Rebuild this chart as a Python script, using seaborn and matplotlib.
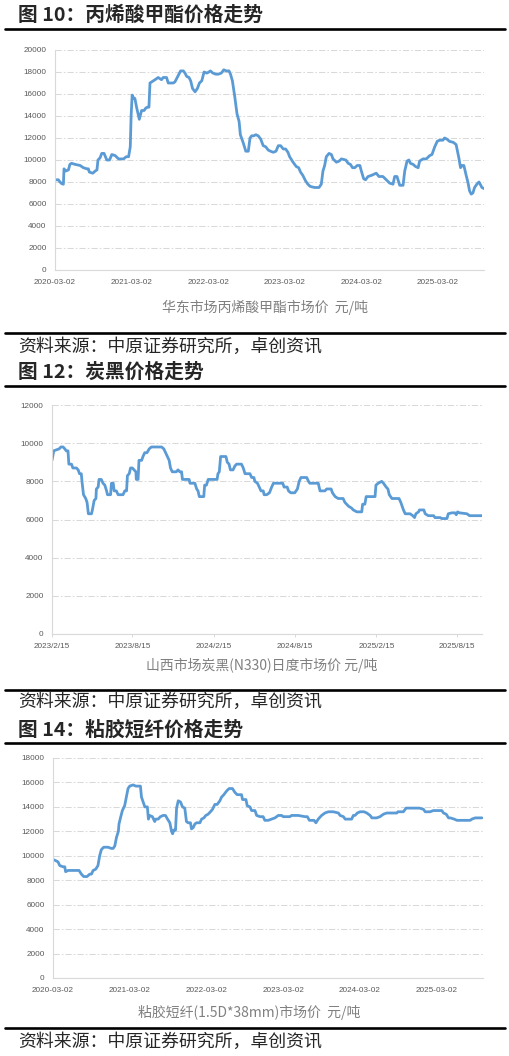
import matplotlib
matplotlib.use('Agg')
import matplotlib.pyplot as plt
from matplotlib.lines import Line2D
import seaborn as sns
import pandas as pd

# ---------------- data ----------------
p1_dates = [
    "2020-03-02","2020-03-18","2020-03-26","2020-04-03","2020-04-11","2020-04-14","2020-04-22","2020-05-05","2020-05-12","2020-05-20",
    "2020-06-06","2020-06-30","2020-07-15","2020-08-01","2020-08-08","2020-08-13","2020-08-29","2020-09-10","2020-09-18","2020-09-23",
    "2020-10-03","2020-10-11","2020-10-22","2020-11-04","2020-11-17","2020-11-28","2020-12-14","2020-12-30","2021-01-23","2021-02-05",
    "2021-02-16","2021-02-24","2021-02-28","2021-03-05","2021-03-13","2021-03-18","2021-03-26","2021-04-08","2021-04-19","2021-05-01",
    "2021-05-08","2021-05-16","2021-05-24","2021-05-29","2021-06-06","2021-06-22","2021-07-07","2021-07-23","2021-07-31","2021-08-16",
    "2021-08-24","2021-09-17","2021-09-25","2021-10-03","2021-10-14","2021-10-22","2021-11-04","2021-11-12","2021-11-20","2021-12-01",
    "2021-12-09","2021-12-18","2021-12-30","2022-01-10","2022-01-20","2022-01-31","2022-02-11","2022-02-24","2022-03-06","2022-03-13",
    "2022-03-25","2022-04-08","2022-04-19","2022-05-04","2022-05-16","2022-05-28","2022-06-10","2022-06-17","2022-06-26","2022-07-07",
    "2022-07-18","2022-07-28","2022-08-03","2022-08-16","2022-08-29","2022-09-10","2022-09-18","2022-09-26","2022-10-06","2022-10-16",
    "2022-10-27","2022-11-08","2022-11-20","2022-12-02","2022-12-14","2022-12-25","2023-01-07","2023-01-20","2023-01-31","2023-02-11",
    "2023-02-24","2023-03-07","2023-03-18","2023-03-26","2023-04-08","2023-04-19","2023-04-27","2023-05-08","2023-05-17","2023-05-28",
    "2023-06-10","2023-06-21","2023-07-02","2023-07-23","2023-08-13","2023-08-24","2023-09-01","2023-09-09","2023-09-17","2023-09-30",
    "2023-10-11","2023-10-19","2023-11-04","2023-11-17","2023-11-28","2023-12-19","2023-12-30","2024-01-10","2024-01-20","2024-01-31",
    "2024-02-11","2024-02-24","2024-03-02","2024-03-13","2024-03-22","2024-04-03","2024-04-19","2024-04-30","2024-05-12","2024-05-25",
    "2024-06-13","2024-06-29","2024-07-15","2024-07-31","2024-08-08","2024-08-19","2024-09-01","2024-09-17","2024-09-25","2024-10-06",
    "2024-10-15","2024-10-22","2024-11-04","2024-11-16","2024-11-28","2024-12-05","2024-12-21","2025-01-06","2025-01-22","2025-02-02",
    "2025-02-15","2025-02-27","2025-03-10","2025-03-26","2025-04-03","2025-04-14","2025-04-26","2025-05-15","2025-05-28","2025-06-10",
    "2025-06-18","2025-06-26","2025-07-04","2025-07-15","2025-07-23","2025-07-31","2025-08-08","2025-08-16","2025-08-24","2025-09-04",
    "2025-09-14","2025-09-20","2025-09-28","2025-10-08",
]
p1_values = [
    8200, 8200, 8000, 7850, 7800, 9200, 9000, 9100, 9600, 9700,
    9600, 9500, 9300, 9200, 9200, 8900, 8800, 9000, 9100, 10000,
    10200, 10600, 10600, 10000, 10000, 10500, 10400, 10100, 10100, 10300,
    10300, 11200, 14000, 15900, 15600, 15600, 14800, 13700, 14500, 14500,
    14700, 14800, 14800, 17000, 17100, 17300, 17500, 17300, 17500, 17500,
    17000, 17000, 17100, 17400, 17800, 18100, 18100, 17900, 17600, 17500,
    17200, 16500, 16200, 16500, 17000, 17200, 18000, 17900, 18000, 18100,
    17900, 17800, 17800, 17900, 18200, 18100, 18100, 17800, 17200, 15800,
    14200, 13500, 12300, 11600, 10800, 10800, 12000, 12200, 12200, 12300,
    12200, 11900, 11300, 11200, 10900, 10800, 10700, 10800, 11300, 11300,
    11000, 11000, 10700, 10300, 9900, 9600, 9400, 9300, 8900, 8600,
    8100, 7800, 7600, 7500, 7500, 7800, 9000, 9500, 10300, 10600,
    10500, 10100, 9800, 9900, 10100, 10000, 9700, 9600, 9300, 9300,
    9500, 9500, 9000, 8300, 8200, 8500, 8600, 8700, 8800, 8500,
    8500, 8200, 7900, 7800, 8500, 8500, 7700, 7700, 9000, 9900,
    10000, 9700, 9600, 9400, 9300, 9900, 10100, 10100, 10400, 10500,
    11200, 11700, 11800, 11800, 12000, 11900, 11700, 11600, 11400, 10200,
    9300, 9500, 9500, 8600, 8000, 7200, 6900, 7000, 7500, 7800,
    8000, 7800, 7500, 7400,
]

p2_dates = [
    "2023-02-15","2023-02-19","2023-02-25","2023-03-03","2023-03-07","2023-03-12","2023-03-16","2023-03-19","2023-03-23","2023-03-25",
    "2023-03-31","2023-04-03","2023-04-11","2023-04-15","2023-04-18","2023-04-22","2023-04-24","2023-04-27","2023-05-02","2023-05-05",
    "2023-05-08","2023-05-15","2023-05-17","2023-05-21","2023-05-25","2023-05-26","2023-05-30","2023-06-01","2023-06-06","2023-06-10",
    "2023-06-14","2023-06-18","2023-06-20","2023-06-27","2023-06-29","2023-07-03","2023-07-05","2023-07-10","2023-07-14","2023-07-25",
    "2023-07-29","2023-08-02","2023-08-04","2023-08-08","2023-08-11","2023-08-15","2023-08-19","2023-08-23","2023-08-24","2023-08-28",
    "2023-08-30","2023-09-05","2023-09-08","2023-09-12","2023-09-17","2023-09-22","2023-09-27","2023-10-08","2023-10-20","2023-10-25",
    "2023-10-29","2023-11-02","2023-11-06","2023-11-09","2023-11-13","2023-11-22","2023-11-26","2023-11-30","2023-12-04","2023-12-06",
    "2023-12-21","2023-12-23","2024-01-03","2024-01-07","2024-01-10","2024-01-13","2024-01-23","2024-01-25","2024-01-29","2024-02-02",
    "2024-02-22","2024-02-24","2024-02-27","2024-03-01","2024-03-13","2024-03-16","2024-03-20","2024-03-23","2024-03-29","2024-04-02",
    "2024-04-06","2024-04-17","2024-04-21","2024-04-25","2024-05-06","2024-05-10","2024-05-15","2024-05-17","2024-05-23","2024-05-27",
    "2024-05-31","2024-06-05","2024-06-07","2024-06-13","2024-06-19","2024-06-24","2024-06-28","2024-07-19","2024-07-22","2024-07-29",
    "2024-08-01","2024-08-06","2024-08-15","2024-08-21","2024-08-25","2024-08-29","2024-09-11","2024-09-15","2024-09-18","2024-10-07",
    "2024-10-11","2024-10-22","2024-10-26","2024-11-05","2024-11-08","2024-11-14","2024-11-21","2024-12-02","2024-12-06","2024-12-10",
    "2024-12-14","2024-12-21","2024-12-25","2025-01-02","2025-01-13","2025-01-15","2025-01-20","2025-01-23","2025-02-12","2025-02-14",
    "2025-02-19","2025-02-27","2025-03-03","2025-03-09","2025-03-13","2025-03-16","2025-03-22","2025-04-07","2025-04-11","2025-04-17",
    "2025-04-21","2025-05-02","2025-05-08","2025-05-12","2025-05-15","2025-05-21","2025-05-23","2025-06-02","2025-06-05","2025-06-12",
    "2025-06-24","2025-06-27","2025-07-09","2025-07-12","2025-07-24","2025-07-27","2025-08-04","2025-08-11","2025-08-14","2025-08-17",
    "2025-08-21","2025-09-07","2025-09-13","2025-10-11",
]
p2_values = [
    9100, 9600, 9650, 9700, 9800, 9800, 9700, 9600, 9600, 8900,
    8900, 8700, 8700, 8600, 8400, 8400, 7900, 7300, 7100, 6900,
    6300, 6300, 6500, 7000, 7100, 7600, 7700, 8100, 8100, 7900,
    7800, 7500, 7300, 7300, 7900, 7900, 7500, 7500, 7300, 7300,
    7500, 7500, 8300, 8400, 8700, 8700, 8600, 8500, 8100, 8100,
    9100, 9100, 9300, 9500, 9500, 9700, 9800, 9800, 9800, 9700,
    9500, 9300, 9100, 8700, 8500, 8500, 8600, 8500, 8500, 8100,
    8100, 7900, 7900, 7600, 7500, 7200, 7200, 7800, 7800, 8100,
    8100, 8400, 8500, 9300, 9300, 9000, 8900, 8600, 8600, 8800,
    8900, 8900, 8700, 8400, 8400, 8200, 8200, 8000, 7900, 7700,
    7500, 7500, 7300, 7300, 7400, 7700, 7900, 7900, 7700, 7700,
    7500, 7400, 7400, 7600, 8000, 8200, 8200, 8000, 7900, 7900,
    7500, 7500, 7600, 7600, 7400, 7200, 7100, 7100, 6900, 6800,
    6700, 6600, 6500, 6400, 6400, 6800, 6800, 7200, 7200, 7800,
    7900, 8000, 7900, 7700, 7600, 7300, 7100, 7100, 6900, 6500,
    6300, 6300, 6200, 6100, 6300, 6400, 6500, 6500, 6300, 6200,
    6200, 6100, 6100, 6050, 6050, 6300, 6350, 6350, 6250, 6400,
    6350, 6300, 6200, 6200,
]

p3_dates = [
    "2020-03-02","2020-03-15","2020-03-26","2020-04-03","2020-04-19","2020-04-27","2020-05-01","2020-05-13","2020-05-28","2020-07-04",
    "2020-07-15","2020-07-26","2020-08-11","2020-08-24","2020-09-01","2020-09-09","2020-09-21","2020-10-02","2020-10-10","2020-10-18",
    "2020-10-29","2020-11-19","2020-12-05","2020-12-13","2020-12-21","2020-12-29","2021-01-07","2021-01-10","2021-01-17","2021-01-26",
    "2021-02-06","2021-02-14","2021-02-22","2021-03-02","2021-03-18","2021-03-31","2021-04-16","2021-04-22","2021-04-27","2021-05-05",
    "2021-05-13","2021-05-25","2021-05-30","2021-06-05","2021-06-18","2021-06-29","2021-07-04","2021-07-15","2021-07-26","2021-08-08",
    "2021-08-19","2021-08-29","2021-09-09","2021-09-17","2021-09-22","2021-09-28","2021-10-06","2021-10-11","2021-10-19","2021-10-30",
    "2021-11-08","2021-11-19","2021-11-27","2021-12-05","2021-12-16","2021-12-21","2021-12-29","2022-01-06","2022-01-14","2022-01-30",
    "2022-02-07","2022-02-18","2022-02-27","2022-03-10","2022-03-21","2022-03-31","2022-04-11","2022-04-22","2022-05-05","2022-05-13",
    "2022-05-24","2022-06-06","2022-06-18","2022-07-04","2022-07-15","2022-07-26","2022-08-16","2022-08-21","2022-09-06","2022-09-12",
    "2022-09-25","2022-10-03","2022-10-19","2022-10-27","2022-11-12","2022-11-27","2022-12-05","2022-12-21","2023-01-06","2023-01-22",
    "2023-02-07","2023-02-23","2023-03-02","2023-04-03","2023-04-11","2023-05-13","2023-06-14","2023-06-25","2023-07-05","2023-07-27",
    "2023-08-05","2023-08-16","2023-09-01","2023-09-17","2023-10-03","2023-10-27","2023-11-20","2023-11-28","2023-12-14","2023-12-22",
    "2024-01-06","2024-01-22","2024-01-30","2024-02-07","2024-02-18","2024-03-02","2024-03-21","2024-04-03","2024-04-19","2024-04-27",
    "2024-05-20","2024-06-05","2024-06-21","2024-07-07","2024-08-08","2024-08-24","2024-08-29","2024-09-24","2024-10-07","2024-11-11",
    "2024-12-10","2024-12-29","2025-01-06","2025-01-29","2025-02-14","2025-03-26","2025-04-03","2025-04-16","2025-04-27","2025-05-05",
    "2025-05-24","2025-06-06","2025-06-30","2025-08-08","2025-08-16","2025-09-01","2025-10-03",
]
p3_values = [
    9700, 9600, 9500, 9200, 9100, 9100, 8700, 8800, 8800, 8800,
    8500, 8300, 8300, 8500, 8500, 8800, 8900, 9200, 10000, 10500,
    10700, 10700, 10600, 10600, 10800, 11500, 12000, 12600, 13100, 13700,
    14100, 14800, 15500, 15700, 15800, 15700, 15700, 15700, 14800, 14400,
    14000, 14000, 13000, 13300, 13200, 12800, 13000, 13000, 13200, 13300,
    13300, 13000, 12700, 12000, 11800, 12100, 12100, 13900, 14500, 14400,
    14000, 13900, 12800, 12700, 12700, 12200, 12300, 12600, 12700, 12700,
    13000, 13100, 13300, 13400, 13600, 13800, 14200, 14200, 14500, 14800,
    15000, 15300, 15500, 15500, 15200, 15000, 15000, 14600, 14600, 14100,
    14000, 13700, 13700, 13300, 13200, 13200, 12900, 12900, 13000, 13100,
    13300, 13300, 13200, 13200, 13300, 13300, 13200, 13200, 12900, 12900,
    12700, 13000, 13300, 13500, 13600, 13600, 13500, 13300, 13200, 13000,
    13000, 13000, 13300, 13300, 13500, 13600, 13600, 13500, 13300, 13100,
    13100, 13200, 13400, 13500, 13500, 13500, 13600, 13600, 13900, 13900,
    13900, 13800, 13600, 13600, 13700, 13700, 13500, 13400, 13100, 13100,
    13000, 12900, 12900, 12900, 13000, 13100, 13100,
]

titles = ["图 10：丙烯酸甲酯价格走势", "图 12：炭黑价格走势", "图 14：粘胶短纤价格走势"]
xlabels = ["华东市场丙烯酸甲酯市场价  元/吨", "山西市场炭黑(N330)日度市场价 元/吨", "粘胶短纤(1.5D*38mm)市场价  元/吨"]
source = "资料来源：中原证券研究所，卓创资讯"

p1_ticks = ["2020-03-02", "2021-03-02", "2022-03-02", "2023-03-02", "2024-03-02", "2025-03-02"]
p2_ticks = ["2023-02-15", "2023-08-15", "2024-02-15", "2024-08-15", "2025-02-15", "2025-08-15"]
p2_tick_labels = ["2023/2/15", "2023/8/15", "2024/2/15", "2024/8/15", "2025/2/15", "2025/8/15"]
p3_ticks = p1_ticks

# ---------------- style ----------------
sns.set_theme(style='white')
plt.rcParams['font.family'] = ['Noto Sans CJK SC', 'DejaVu Sans']

W, H = 510, 1056
fig = plt.figure(figsize=(W / 100, H / 100), dpi=100)

def fx(px):
    return px / W

def fy(py):
    return 1 - py / H

LINE = '#5B9BD5'
GRID = '#d9d9d9'
TICK = '#595959'
LABEL = '#808080'
TITLE_SIZE = 14.2
SOURCE_SIZE = 12.9


def panel(left, right, top, bottom, dates, values, ymax, xlim, ticks, tick_labels,
          xpad, marks=False):
    ax = fig.add_axes([fx(left), fy(bottom), fx(right - left), (bottom - top) / H])
    sns.lineplot(x=pd.to_datetime(dates), y=values, ax=ax, color=LINE,
                 linewidth=2.0, solid_joinstyle='round')
    ax.set_ylim(0, ymax)
    ax.set_yticks(list(range(0, ymax + 1, 2000)))
    ax.set_xlim(pd.Timestamp(xlim[0]), pd.Timestamp(xlim[1]))
    ax.set_xticks([pd.Timestamp(t) for t in ticks])
    ax.set_xticklabels(tick_labels)
    ax.set_xlabel('')
    ax.set_ylabel('')
    ax.set_axisbelow(True)
    ax.yaxis.grid(True, color=GRID, linestyle=(0, (6, 2, 1.5, 2)), linewidth=0.75)
    ax.xaxis.grid(False)
    for s in ['top', 'right']:
        ax.spines[s].set_visible(False)
    for s in ['left', 'bottom']:
        ax.spines[s].set_color(GRID)
        ax.spines[s].set_linewidth(0.8)
    ax.tick_params(axis='y', length=0, pad=6, labelsize=5.9, labelcolor=TICK,
                   labelfontfamily='Liberation Sans')
    ax.tick_params(axis='x', length=(2.5 if marks else 0), width=0.7, color=GRID,
                   direction='out', bottom=True, pad=xpad, labelsize=5.9,
                   labelcolor=TICK, labelfontfamily='Liberation Sans')
    return ax


def rule(py):
    fig.add_artist(Line2D([fx(5), fx(505)], [fy(py), fy(py)], color='black',
                          linewidth=1.9, transform=fig.transFigure))


# Panel 1
panel(55, 484, 50, 270, p1_dates, p1_values, 20000,
      ("2020-03-02", "2025-10-08"), p1_ticks, p1_ticks, 6.3)
fig.text(fx(18), fy(15), titles[0], fontsize=TITLE_SIZE, fontweight='bold', va='center', ha='left')
rule(29)
fig.text(fx(265), fy(307), xlabels[0], fontsize=10, color=LABEL, ha='center', va='center')
rule(333)
fig.text(fx(18), fy(347), source, fontsize=SOURCE_SIZE, va='center', ha='left')

# Panel 2
panel(52, 482, 405, 634, p2_dates, p2_values, 12000,
      ("2023-02-15", "2025-10-11"), p2_ticks, p2_tick_labels, 4.2, marks=True)
fig.text(fx(18), fy(372), titles[1], fontsize=TITLE_SIZE, fontweight='bold', va='center', ha='left')
rule(386)
fig.text(fx(262), fy(665), xlabels[1], fontsize=10, color=LABEL, ha='center', va='center')
rule(690)
fig.text(fx(18), fy(702), source, fontsize=SOURCE_SIZE, va='center', ha='left')

# Panel 3
panel(53, 483, 758, 978, p3_dates, p3_values, 18000,
      ("2020-03-02", "2025-10-08"), p3_ticks, p3_ticks, 6.3)
fig.text(fx(18), fy(730), titles[2], fontsize=TITLE_SIZE, fontweight='bold', va='center', ha='left')
rule(743)
fig.text(fx(249), fy(1012), xlabels[2], fontsize=10, color=LABEL, ha='center', va='center')
rule(1028)
fig.text(fx(18), fy(1042), source, fontsize=SOURCE_SIZE, va='center', ha='left')

fig.savefig('out.png', dpi=100)
